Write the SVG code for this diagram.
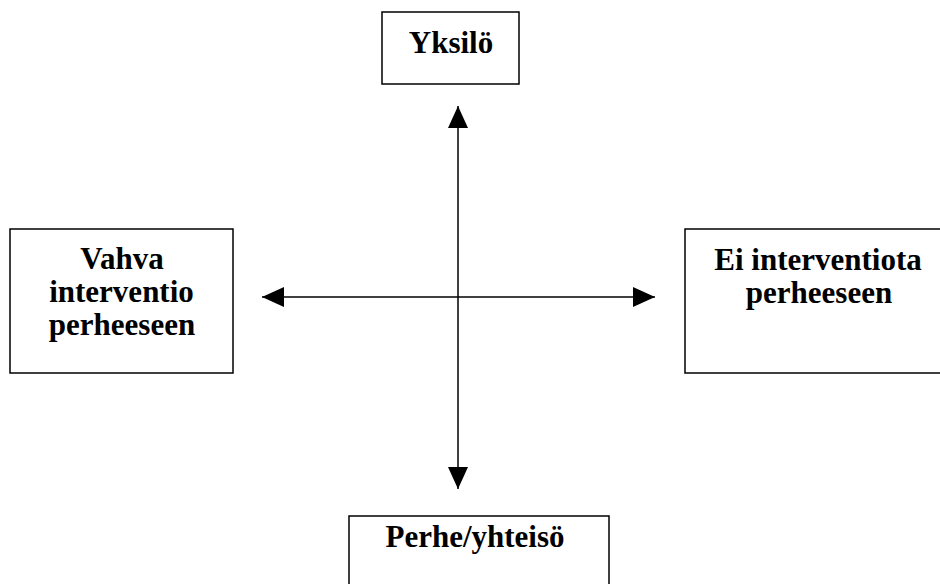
<svg xmlns="http://www.w3.org/2000/svg" width="940" height="584" viewBox="0 0 940 584">
<style>
.box{fill:#fff;stroke:#000;stroke-width:1.5}
.t{font-family:"Liberation Serif","Times New Roman",serif;font-weight:bold;fill:#000;text-anchor:middle}
.big{font-size:31px}
.c{stroke:#000;stroke-width:1.5;fill:none}
</style>
<defs>
<marker id="ah" markerUnits="userSpaceOnUse" markerWidth="22" markerHeight="20" refX="22" refY="10" orient="auto-start-reverse">
<path d="M0,0 L22,10 L0,20 z" fill="#000"/>
</marker>
</defs>
<rect width="940" height="584" fill="#fff"/>
<g id="connectors">
<line class="c" x1="262" y1="297" x2="655" y2="297" marker-start="url(#ah)" marker-end="url(#ah)"/>
<line class="c" x1="458" y1="106" x2="458" y2="489" marker-start="url(#ah)" marker-end="url(#ah)"/>
</g>
<g id="yksilo">
<rect class="box" x="382" y="12" width="137" height="72"/>
<text class="t big" x="451" y="53">Yksilö</text>
</g>
<g id="vahva">
<rect class="box" x="10" y="229" width="223" height="144"/>
<text class="t big" x="122" y="269">Vahva</text>
<text class="t big" x="121.5" y="302">interventio</text>
<text class="t big" x="122" y="335">perheeseen</text>
</g>
<g id="ei">
<rect class="box" x="685" y="229" width="270" height="144"/>
<text class="t big" x="818" y="270">Ei interventiota</text>
<text class="t big" x="819" y="303">perheeseen</text>
</g>
<g id="perhe">
<rect class="box" x="349" y="516" width="260" height="90"/>
<text class="t big" x="475" y="547">Perhe/yhteisö</text>
</g>
</svg>
